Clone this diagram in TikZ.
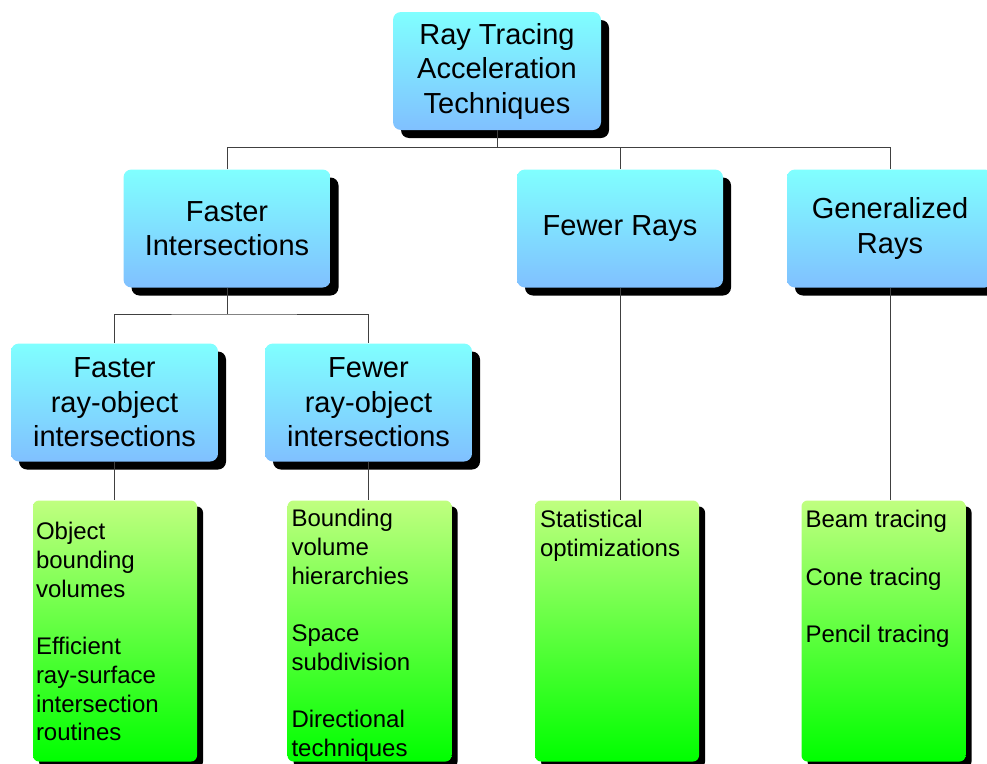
\documentclass[tikz,border=0pt]{standalone}
\usepackage{fontspec}
\setmainfont{Liberation Sans}
\usetikzlibrary{shadows}
\definecolor{bluetop}{HTML}{80FFFF}
\definecolor{bluebot}{HTML}{80C0FF}
\definecolor{greentop}{HTML}{C0FF80}
\definecolor{greenbot}{HTML}{00FF00}
\definecolor{linkgray}{HTML}{404040}
\tikzset{
  topicbox/.style={rectangle, rounded corners=8pt, top color=bluetop, bottom color=bluebot,
    draw=none, inner sep=0pt, minimum height=118pt, align=center,
    font=\fontsize{29}{34.5}\selectfont,
    drop shadow={shadow xshift=8pt, shadow yshift=-8pt, fill=black, opacity=1}},
  listbox/.style={rectangle, rounded corners=6pt, top color=greentop, bottom color=greenbot,
    draw=none, inner sep=0pt, minimum width=164pt, minimum height=261pt,
    drop shadow={shadow xshift=6pt, shadow yshift=-6pt, fill=black, opacity=1}},
  listtext/.style={anchor=north west, inner sep=0pt, align=left,
    font=\fontsize{24}{28.7}\selectfont},
  link/.style={draw=linkgray, line width=1pt}
}
\begin{document}
\begin{tikzpicture}[x=1pt, y=-1pt]
\useasboundingbox (0,0) rectangle (987,763);

% topic boxes
\node[topicbox, minimum width=208pt] (root) at (497,71) {Ray Tracing\\Acceleration\\Techniques};
\node[topicbox, minimum width=207pt] (fastint) at (227,228.5) {Faster\\Intersections};
\node[topicbox, minimum width=206pt] (fewrays) at (620,228.5) {\raisebox{-3pt}{Fewer Rays}};
\node[topicbox, minimum width=206pt] (genrays) at (890,228.5) {Generalized\\Rays};
\node[topicbox, minimum width=207pt] (fastro) at (114.5,402.5) {Faster\\ray-object\\intersections};
\node[topicbox, minimum width=207pt] (fewro) at (368.5,402.5) {Fewer\\ray-object\\intersections};

% list boxes
\node[listbox] (lista) at (115,631) {};
\node[listbox] (listb) at (369.5,631) {};
\node[listbox] (listc) at (617,631) {};
\node[listbox] (listd) at (883.5,631) {};

% list texts
\node[listtext] (texta) at ([xshift=3pt,yshift=-22pt]lista.north west)
  {Object\\bounding\\volumes\\[28.7pt]Efficient\\ray-surface\\intersection\\routines};
\node[listtext] (textb) at ([xshift=4pt,yshift=-9pt]listb.north west)
  {Bounding\\volume\\hierarchies\\[28.7pt]Space\\subdivision\\[28.7pt]Directional\\techniques};
\node[listtext] (textc) at ([xshift=5pt,yshift=-10pt]listc.north west)
  {Statistical\\optimizations};
\node[listtext] (textd) at ([xshift=4pt,yshift=-10pt]listd.north west)
  {Beam tracing\\[28.7pt]Cone tracing\\[28.7pt]Pencil tracing};

% connectors
\coordinate (bus1) at (497,147.5);
\coordinate (bus2) at (227,314);
\draw[link] (root.south) -- (bus1);
\draw[link] (fastint.north) |- (bus1) -| (genrays.north);
\draw[link] (bus1) -| (fewrays.north);
\draw[link] (fastint.south) -- (bus2);
\draw[link] (fastro.north) |- (bus2) -| (fewro.north);
\draw[link] (fastro.south) -- (fastro.south |- lista.north);
\draw[link] (fewro.south) -- (fewro.south |- listb.north);
\draw[link] (fewrays.south) -- (fewrays.south |- listc.north);
\draw[link] (genrays.south) -- (genrays.south |- listd.north);
\end{tikzpicture}
\end{document}
